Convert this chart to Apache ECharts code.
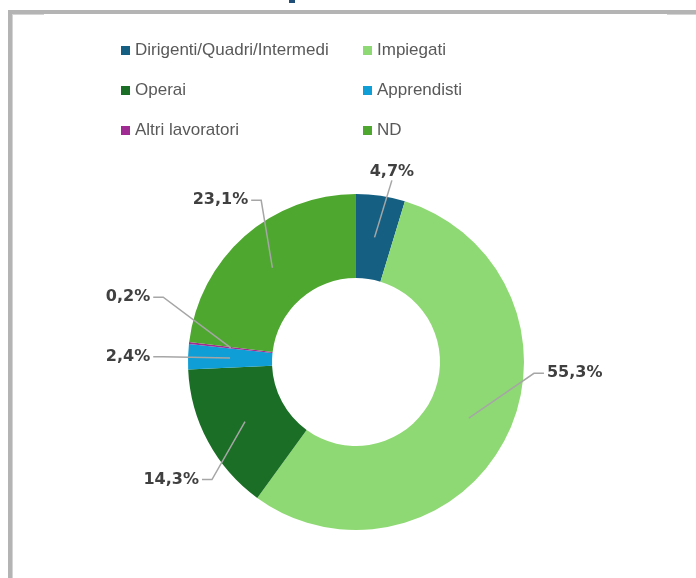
<!DOCTYPE html>
<html><head><meta charset="utf-8">
<script src="https://cdn.jsdelivr.net/npm/echarts@6/dist/echarts.min.js"></script>
<style>html,body{margin:0;padding:0;background:#fff;} #c{width:696px;height:578px;}</style>
</head><body><div id="c"></div>
<script>
const categories = ['Dirigenti/Quadri/Intermedi','Impiegati','Operai','Apprendisti','Altri lavoratori','ND'];
const values = [4.7, 55.3, 14.3, 2.4, 0.2, 23.1];
const colors = ['#156082','#8ED973','#1B6E25','#0F9ED5','#A02B93','#4EA72E'];
const legendCol1 = ['Dirigenti/Quadri/Intermedi','Operai','Altri lavoratori'];
const legendCol2 = ['Impiegati','Apprendisti','ND'];
// label placement relative to each slice's mid-angle: distance from centre (px) and angular nudge (deg)
const labelDist = [194, 219, 219, 228, 237, 211];
const labelNudge = [2.2, -23.5, -4.2, -0.5, 9.4, 1.6];

const CX = 356, CY = 362, R_IN = 84, R_OUT = 168;
const R_MID = (R_IN + R_OUT) / 2;
const total = values.reduce((a, b) => a + b, 0);
const midAngles = [];
{ let acc = 0; values.forEach(v => { midAngles.push((acc + v / 2) / total * 360); acc += v; }); }

const fmt = v => v.toFixed(1).replace('.', ',') + '%';

const chart = echarts.init(document.getElementById('c'), null, {renderer: 'canvas'});
const legendBase = {
  orient: 'vertical', itemGap: 23, itemWidth: 9, itemHeight: 9, icon: 'rect',
  selectedMode: false,
  textStyle: {fontSize: 17, color: '#595959', fontFamily: 'Liberation Sans, Arial, sans-serif'}
};
chart.setOption({
  animation: false,
  backgroundColor: '#fff',
  graphic: [
    {type: 'rect', shape: {x: 8, y: 10, width: 688, height: 4}, style: {fill: '#b4b4b4'}, silent: true},
    {type: 'rect', shape: {x: 8, y: 10, width: 4, height: 568}, style: {fill: '#b4b4b4'}, silent: true},
    {type: 'rect', shape: {x: 12, y: 14, width: 32, height: 1}, style: {fill: '#d4d4d4'}, silent: true},
    {type: 'rect', shape: {x: 667, y: 14, width: 29, height: 1}, style: {fill: '#d4d4d4'}, silent: true},
    {type: 'rect', shape: {x: 12, y: 14, width: 1, height: 564}, style: {fill: '#d4d4d4'}, silent: true},
    {type: 'rect', shape: {x: 289, y: 0, width: 6, height: 3}, style: {fill: '#1F4E79'}, silent: true}
  ],
  legend: [
    Object.assign({data: legendCol1, left: 116, top: 37}, legendBase),
    Object.assign({data: legendCol2, left: 358, top: 37}, legendBase)
  ],
  series: [
    {
      type: 'pie', name: 'ring', center: [CX, CY], radius: [R_IN, R_OUT], z: 2,
      startAngle: 90, clockwise: true, avoidLabelOverlap: false, silent: true,
      label: {show: false}, labelLine: {show: false},
      itemStyle: {borderWidth: 0},
      data: categories.map((n, i) => ({name: n, value: values[i], itemStyle: {color: colors[i]}}))
    },
    {
      type: 'pie', name: 'labels', center: [CX, CY], radius: [0, R_MID], z: 5,
      startAngle: 90, clockwise: true, avoidLabelOverlap: false, silent: true,
      itemStyle: {color: 'rgba(0,0,0,0)', borderWidth: 0},
      label: {
        show: true, position: 'outside',
        formatter: p => fmt(values[p.dataIndex]),
        fontSize: 16, fontWeight: 'bold', color: '#404040',
        fontFamily: 'DejaVu Sans, sans-serif'
      },
      labelLine: {show: true, length: 10, length2: 8, lineStyle: {color: '#a6a6a6', width: 1.5}},
      labelLayout: function (p) {
        const i = p.dataIndex;
        const a = (midAngles[i] + labelNudge[i]) * Math.PI / 180;
        const lx = CX + labelDist[i] * Math.sin(a);
        const ly = CY - labelDist[i] * Math.cos(a);
        const m = midAngles[i] * Math.PI / 180;
        const px = CX + R_MID * Math.sin(m), py = CY - R_MID * Math.cos(m);
        const w = p.labelRect.width, h = p.labelRect.height;
        let edge, bend;
        if (Math.abs(lx - px) > w / 2 + 4) {
          const s = lx > px ? -1 : 1;
          edge = [lx + s * (w / 2 + 3), ly];
          bend = [edge[0] + s * 10, ly];
        } else {
          const s = ly > py ? -1 : 1;
          edge = [lx, ly + s * (h / 2 + 1)];
          bend = [(edge[0] + px) / 2, (edge[1] + py) / 2];
        }
        return {
          x: lx, y: ly, align: 'center', verticalAlign: 'middle',
          labelLinePoints: [[px, py], bend, edge]
        };
      },
      data: categories.map((n, i) => ({name: n, value: values[i]}))
    }
  ]
});
</script>
</body></html>
